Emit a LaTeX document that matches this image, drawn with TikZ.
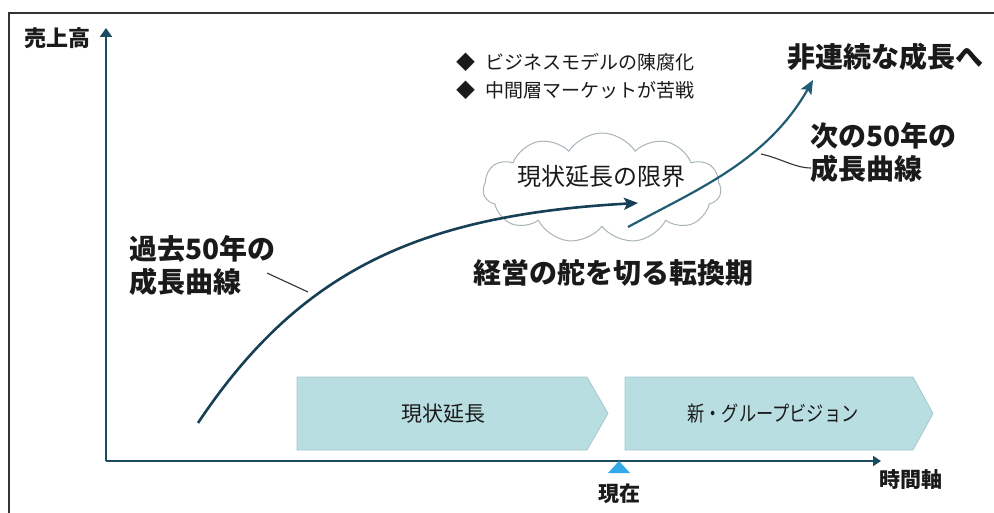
\documentclass[tikz,border=0pt]{standalone}
\usepackage{fontspec}
\setmainfont{Noto Sans CJK JP}
\usetikzlibrary{arrows.meta,shapes.symbols}
\definecolor{axiscol}{HTML}{1C4B5F}
\definecolor{curveone}{HTML}{173F55}
\definecolor{curvetwo}{HTML}{215C72}
\definecolor{chevfill}{HTML}{B9DEE2}
\definecolor{chevdraw}{HTML}{A6C8CC}
\definecolor{nowcol}{HTML}{33A9EA}
\definecolor{cloudline}{HTML}{A9B4B8}
\definecolor{txt}{HTML}{1A1A1A}
\tikzset{
  biglabel/.style={font=\fontsize{28}{33}\selectfont\bfseries, text=txt, inner sep=0pt, align=left},
  axislabel/.style={font=\fontsize{21}{24}\selectfont\bfseries, text=txt, inner sep=0pt},
  bullettext/.style={font=\fontsize{19}{22}\selectfont, text=txt, inner sep=0pt, anchor=west},
  chevtext/.style={font=\fontsize{21}{24}\selectfont, text=txt, inner sep=0pt},
  chevron/.style={fill=chevfill, draw=chevdraw, line width=0.8pt},
  axisline/.style={draw=axiscol, line width=2pt},
  leader/.style={draw=black!80, line width=1.1pt},
}
\begin{document}
\begin{tikzpicture}[x=1pt,y=-1pt]
\useasboundingbox (0,0) rectangle (994,513);
\fill[white] (0,0) rectangle (994,513);
% frame
\draw[black!80, line width=1.3pt] (9,513) -- (9,13) -- (995,13);

% chevrons
\draw[chevron] (297,377) -- (587,377) -- (608,413.5) -- (587,450) -- (297,450) -- cycle;
\draw[chevron] (625,377) -- (913,377) -- (933,413.5) -- (913,450) -- (625,450) -- cycle;
\node[chevtext] (c1) at (443,414) {現状延長};
\node[chevtext] (c2) at (773,414) {\scalebox{0.82}[1]{新・グループビジョン}};

% axes
\coordinate (origin) at (106,461);
\coordinate (ytop) at (106,28);
\coordinate (xend) at (881,461);
\draw[axisline, -{Triangle[length=9pt,width=12pt]}] (origin) -- (ytop);
\draw[axisline, -{Triangle[length=8pt,width=10pt]}] (origin) -- (xend);
\node[axislabel, font=\fontsize{22}{24}\selectfont\bfseries] (sales) at (57,38) {売上高};
\node[axislabel] (timeax) at (911,480) {時間軸};
\node[axislabel] (now) at (619,494) {現在};
\fill[nowcol] (619,461) -- (630,473) -- (608,473) -- cycle;

% cloud
\node[cloud, cloud puffs=11, cloud puff arc=115, cloud ignores aspect, draw=cloudline, fill=white,
      line width=1pt, minimum width=238pt, minimum height=110pt, inner sep=0pt]
      (cloud) at (602,188) {};
\node[font=\fontsize{24}{26}\selectfont, text=txt, inner sep=0pt] (limit) at (601,176) {現状延長の限界};

% curves
\coordinate (p0) at (198,423);
\coordinate (p3) at (638,203);
\draw[curveone, line width=2.6pt, -{Stealth[length=14pt,width=12pt,inset=3pt]}]
  (p0) .. controls (300,270) and (420,215) .. (p3);
\coordinate (q0) at (628,227);
\coordinate (q3) at (813,80);
\draw[curvetwo, line width=2.2pt, -{Stealth[length=14pt,width=12pt,inset=3pt]}]
  (q0) .. controls (698,189) and (767,161) .. (q3);

% bullets
\node[bullettext] (b1) at (456,62) {◆\hspace{0.55em}ビジネスモデルの陳腐化};
\node[bullettext] (b2) at (456,90) {◆\hspace{0.55em}中間層マーケットが苦戦};

% big labels
\node[biglabel, anchor=center] (disc) at (885,57) {非連続な成長へ};
\node[biglabel, anchor=west] (next) at (810,153) {次の50年の\\成長曲線};
\node[biglabel, anchor=west] (past) at (129,266) {過去50年の\\成長曲線};
\node[biglabel, anchor=center] (turn) at (613,273) {経営の舵を切る転換期};

% leader lines
\coordinate (pastA) at (267,273);
\coordinate (pastB) at (308,292);
\draw[leader] (pastA) -- (pastB);
\coordinate (nextA) at (761,154);
\coordinate (nextB) at (811,168);
\draw[leader] (nextA) .. controls (780,158) and (795,168) .. (nextB);
\end{tikzpicture}
\end{document}
